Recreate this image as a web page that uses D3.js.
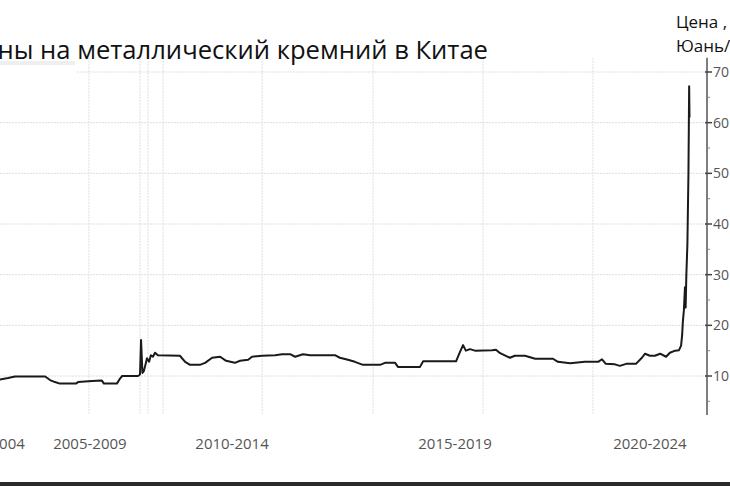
<!DOCTYPE html>
<html>
<head>
<meta charset="utf-8">
<script src="https://cdn.jsdelivr.net/npm/d3@7"></script>
<style>
  html, body { margin: 0; padding: 0; background: #fff; overflow: hidden; }
</style>
</head>
<body>
<div id="chart"></div>
<script>
// Цены на металлический кремний в Китае, тыс. юань/т
// время в долях года
const dates = [2001.71, 2002.00, 2002.23, 2002.43, 2003.29, 2003.43, 2003.57, 2003.71, 2004.17, 2004.23,
  2004.63, 2004.91, 2004.97, 2005.34, 2005.43, 2005.49, 2005.94, 2006.00, 2006.03, 2006.07,
  2006.11, 2006.14, 2006.20, 2006.26, 2006.31, 2006.37, 2006.43, 2006.51, 2007.14, 2007.29,
  2007.43, 2007.71, 2007.86, 2008.06, 2008.29, 2008.46, 2008.71, 2008.86, 2009.09, 2009.20,
  2009.49, 2009.86, 2010.06, 2010.29, 2010.43, 2010.66, 2010.86, 2011.57, 2011.71, 2011.94,
  2012.14, 2012.37, 2012.86, 2013.00, 2013.29, 2013.37, 2014.00, 2014.09, 2015.03, 2015.14,
  2015.23, 2015.31, 2015.43, 2015.57, 2016.06, 2016.17, 2016.29, 2016.57, 2016.71, 2017.00,
  2017.29, 2017.80, 2017.94, 2018.29, 2018.71, 2019.09, 2019.20, 2019.31, 2019.57, 2019.71,
  2019.89, 2020.17, 2020.34, 2020.43, 2020.57, 2020.71, 2020.86, 2021.03, 2021.14, 2021.29,
  2021.40, 2021.46, 2021.49, 2021.51, 2021.54, 2021.57, 2021.59, 2021.61, 2021.64, 2021.67,
  2021.69, 2021.70];
const prices = [9.2, 9.3, 9.6, 9.9, 9.9, 9.2, 8.8, 8.5, 8.5, 8.8,
  9.0, 9.1, 8.5, 8.5, 9.5, 10.0, 10.0, 10.3, 17.1, 10.6,
  11.0, 11.8, 13.5, 12.8, 14.1, 13.8, 14.6, 14.1, 14.0, 12.8,
  12.2, 12.2, 12.6, 13.6, 13.8, 13.0, 12.6, 13.0, 13.2, 13.8,
  14.0, 14.1, 14.3, 14.3, 13.8, 14.3, 14.1, 14.1, 13.6, 13.2,
  12.8, 12.2, 12.2, 12.6, 12.6, 11.8, 11.8, 12.9, 12.9, 14.7,
  16.1, 15.0, 15.3, 15.0, 15.1, 15.2, 14.5, 13.6, 14.0, 14.0,
  13.4, 13.4, 12.8, 12.5, 12.8, 12.8, 13.3, 12.4, 12.3, 12.0,
  12.4, 12.4, 13.6, 14.4, 14.0, 14.0, 14.4, 13.8, 14.6, 15.0,
  15.1, 16.0, 18.1, 20.7, 23.0, 27.5, 23.5, 30.0, 36.0, 50.0,
  67.2, 61.0];

// подписи периодов по оси X и вертикальные линии сетки
const periodLabels = ["2000-2004", "2005-2009", "2010-2014", "2015-2019", "2020-2024"];
const periodPos = [2001.66, 2004.57, 2008.63, 2015.00, 2020.57];
const vGrid = [2004.54, 2006.00, 2006.23, 2006.66, 2009.49, 2012.66, 2015.80, 2018.94];
const yTicks = [10, 20, 30, 40, 50, 60, 70];
const yMinor = [5, 15, 25, 35, 45, 55, 65];

const data = dates.map((d, i) => ({ t: d, v: prices[i] }));

const width = 730, height = 486;
const axisX = 707;

const x = d3.scaleLinear().domain([2002, 2022]).range([0, 700]);
const y = d3.scaleLinear().domain([10, 70]).range([376, 72]);
const yBottom = y(2.3), yTop = y(72.8);

const svg = d3.select('#chart')
              .append('svg')
              .attr('width', width)
              .attr('height', height)
              .style('font-family', '"Open Sans", sans-serif');

// сетка
svg.append('g')
  .selectAll('line')
  .data(yTicks)
  .enter()
  .append('line')
  .attr('x1', d => d === 70 ? 77 : 0)
  .attr('x2', axisX)
  .attr('y1', d => y(d))
  .attr('y2', d => y(d))
  .attr('stroke', '#dedede')
  .attr('stroke-width', 1)
  .attr('stroke-dasharray', '2,1');

svg.append('g')
  .selectAll('line')
  .data(vGrid)
  .enter()
  .append('line')
  .attr('x1', d => x(d))
  .attr('x2', d => x(d))
  .attr('y1', yTop)
  .attr('y2', yBottom)
  .attr('stroke', '#dedede')
  .attr('stroke-width', 1)
  .attr('stroke-dasharray', '2,1');

// серая полоска слева сверху (остаток легенды)
svg.append('rect')
  .attr('x', 0).attr('y', 61).attr('width', 75).attr('height', 4)
  .attr('fill', '#efefef');

// линия цены
const line = d3.line()
  .x(d => x(d.t))
  .y(d => y(d.v));

svg.append('path')
  .datum(data)
  .attr('d', line)
  .attr('fill', 'none')
  .attr('stroke', '#1a1a1a')
  .attr('stroke-width', 2)
  .attr('stroke-linejoin', 'round');

// ось Y справа
const yAxis = svg.append('g');
yAxis.append('line')
  .attr('x1', axisX).attr('x2', axisX)
  .attr('y1', yTop).attr('y2', yBottom)
  .attr('stroke', '#555').attr('stroke-width', 1.5);

yAxis.selectAll('line.major')
  .data(yTicks)
  .enter()
  .append('line')
  .attr('class', 'major')
  .attr('x1', axisX - 2).attr('x2', axisX + 5)
  .attr('y1', d => y(d)).attr('y2', d => y(d))
  .attr('stroke', '#444').attr('stroke-width', 1.5);

yAxis.selectAll('line.minor')
  .data(yMinor)
  .enter()
  .append('line')
  .attr('class', 'minor')
  .attr('x1', axisX).attr('x2', axisX + 3)
  .attr('y1', d => y(d)).attr('y2', d => y(d))
  .attr('stroke', '#888').attr('stroke-width', 1);

yAxis.selectAll('text')
  .data(yTicks)
  .enter()
  .append('text')
  .attr('x', axisX + 6)
  .attr('y', d => y(d))
  .attr('dy', '0.36em')
  .attr('font-size', 14)
  .attr('fill', '#555')
  .text(d => d);

// подписи по оси X
svg.append('g')
  .selectAll('text')
  .data(periodLabels)
  .enter()
  .append('text')
  .attr('x', (d, i) => x(periodPos[i]))
  .attr('y', 449)
  .attr('text-anchor', 'middle')
  .attr('font-size', 15)
  .attr('fill', '#555')
  .text(d => d);

// заголовок
svg.append('text')
  .attr('x', 488)
  .attr('y', 59)
  .attr('text-anchor', 'end')
  .attr('font-family', '"Open Sans", sans-serif')
  .attr('font-size', 25.6)
  .attr('fill', '#111')
  .text('Цены на металлический кремний в Китае');

// единицы измерения
const unit = svg.append('text')
  .attr('x', 676)
  .attr('font-family', '"Open Sans", sans-serif')
  .attr('font-size', 17)
  .attr('fill', '#111');
unit.append('tspan').attr('x', 676).attr('y', 28).text('Цена , тыс.');
unit.append('tspan').attr('x', 676).attr('y', 52).text('Юань/т');

// тёмная полоса снизу
svg.append('rect')
  .attr('x', 0).attr('y', 482).attr('width', width).attr('height', 4)
  .attr('fill', '#2b2b2b');
</script>
</body>
</html>
